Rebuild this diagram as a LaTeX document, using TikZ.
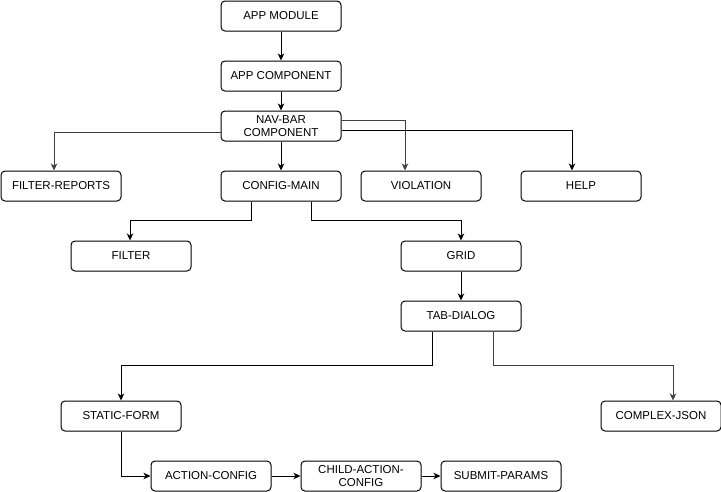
\documentclass[tikz,border=0pt]{standalone}
\usepackage{fontspec}
\setmainfont{Liberation Sans}
\usetikzlibrary{arrows.meta}
\begin{document}
\begin{tikzpicture}[x=1pt,y=-1pt,
  box/.style={draw=black,line width=1pt,rounded corners=4pt,minimum width=120pt,minimum height=30pt,inner sep=0pt,align=center,font=\fontsize{11.5pt}{13pt}\selectfont},
  conn/.style={draw=black,line width=1pt,-{Stealth[length=7pt,width=6.5pt,inset=2pt]}},
  gconn/.style={conn,draw=black!75}]
\useasboundingbox (0,0) rectangle (721,491);
\node[box] (am) at (281,16) {APP MODULE};
\node[box] (ac) at (281,76) {APP COMPONENT};
\node[box] (nb) at (281,126) {NAV-BAR\\COMPONENT};
\node[box] (fr) at (61,186) {FILTER-REPORTS};
\node[box] (cm) at (281,186) {CONFIG-MAIN};
\node[box] (vi) at (421,186) {VIOLATION};
\node[box] (he) at (581,186) {HELP};
\node[box] (fi) at (131,256) {FILTER};
\node[box] (gr) at (461,256) {GRID};
\node[box] (td) at (461,316) {TAB-DIALOG};
\node[box] (sf) at (121,416) {STATIC-FORM};
\node[box] (cj) at (661,416) {COMPLEX-JSON};
\node[box] (acf) at (211,476) {ACTION-CONFIG};
\node[box] (cac) at (361,476) {CHILD-ACTION-\\CONFIG};
\node[box] (sp) at (501,476) {SUBMIT-PARAMS};
\draw[conn] (am) -- (ac);
\draw[conn] (ac) -- (nb);
\draw[conn] (nb) -- (cm);
\draw[gconn] ([yshift=-6pt]nb.west) -| ([xshift=-7pt]fr.north);
\draw[gconn] ([yshift=6pt]nb.east) -| ([xshift=-16pt]vi.north);
\draw[conn] ([yshift=-4pt]nb.east) -| ([xshift=-9pt]he.north);
\draw[conn] ([xshift=-30pt]cm.south) |- (251,220) -| ([xshift=-1pt]fi.north);
\draw[conn] ([xshift=30pt]cm.south) |- (311,220) -| (gr.north);
\draw[conn] (gr) -- (td);
\draw[conn] ([xshift=-29pt]td.south) |- (432,365) -| (sf.north);
\draw[gconn] ([xshift=32pt]td.south) |- (493,365) -| ([xshift=12pt]cj.north);
\draw[conn] (sf.south) |- (acf.west);
\draw[conn] (acf) -- (cac);
\draw[conn] (cac) -- (sp);
\end{tikzpicture}
\end{document}
